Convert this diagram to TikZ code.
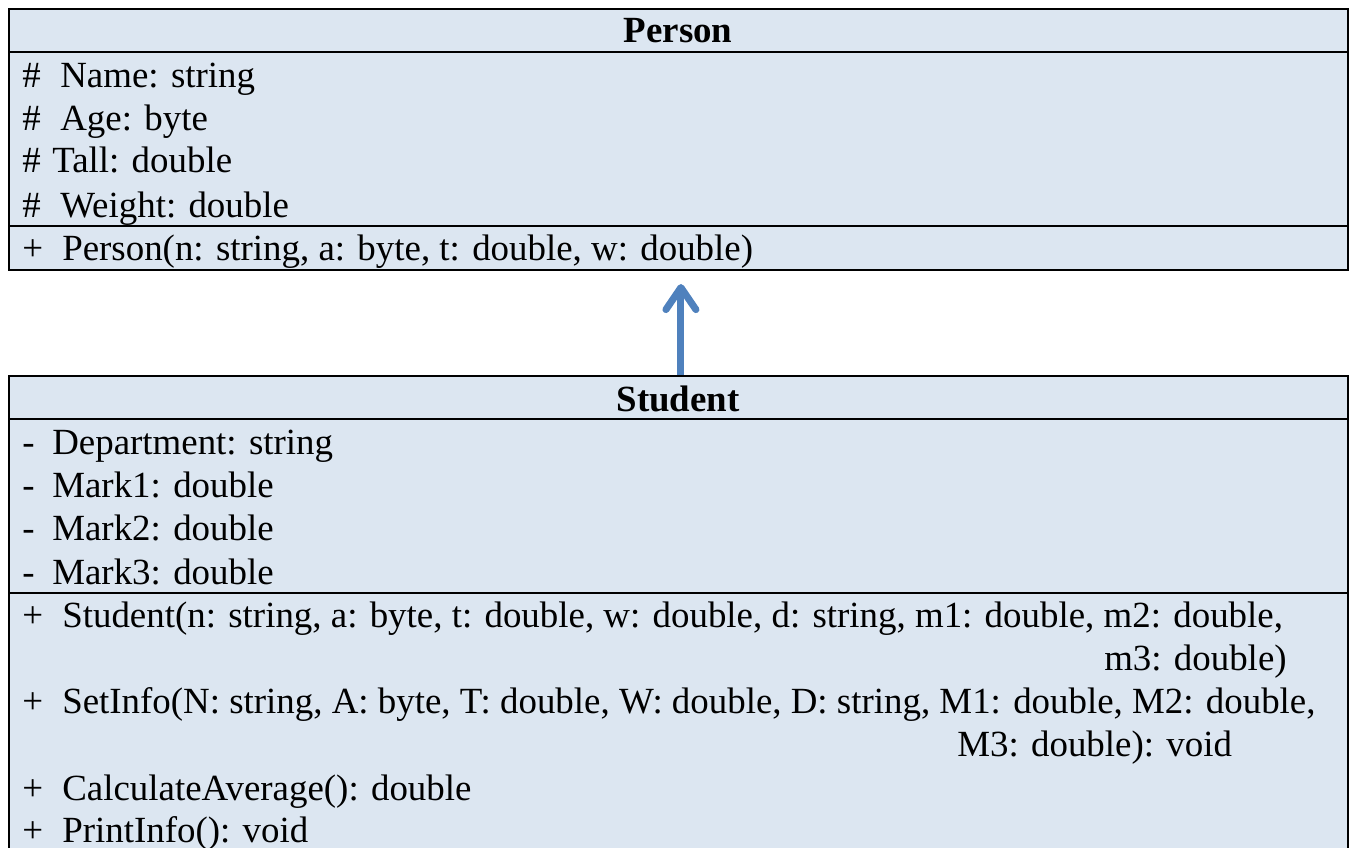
\documentclass[tikz,border=0pt]{standalone}
\usepackage{fontspec}
\setmainfont{Liberation Serif}
\usepackage{tikz}
\usetikzlibrary{arrows.meta, positioning}
\definecolor{classfill}{HTML}{DCE6F1}
\definecolor{arrowblue}{HTML}{4F81BD}
\newcommand{\umlsym}[2]{\makebox[#1][l]{#2}}

\begin{document}
\begin{tikzpicture}[
    x=0.02cm, y=-0.02cm,
    frame/.style={draw, line width=1.2pt, fill=classfill, anchor=north west,
                  inner sep=0pt, minimum width=26.78cm},
    divider/.style={line width=1.2pt},
    member/.style={anchor=base west, inner sep=0pt,
                   font=\fontsize{21}{25}\selectfont},
    title/.style={anchor=base, inner sep=0pt,
                  font=\fontsize{21}{25}\selectfont\bfseries},
    inherit/.style={-{Straight Barb[length=0.44cm, width=0.6cm, round]},
                    line width=4pt, color=arrowblue},
  ]
    \useasboundingbox (0,0) rectangle (1352,848);

    % class boxes
    \node[frame, minimum height=5.22cm] (person) at (8,8) {};
    \node[frame, minimum height=9.8cm] (student) at (8,375) {};

    \draw[divider] (8,52) -- (1347,52);
    \draw[divider] (8,226) -- (1347,226);
    \draw[divider] (8,419) -- (1347,419);
    \draw[divider] (8,593) -- (1347,593);

    % Person
    \node[title] (p-title) at (678,43) {Person};
    \node[member] (p-name) at (22,88) {\umlsym{0.76cm}{\#}Name: string};
    \node[member] (p-age) at (22,131) {\umlsym{0.76cm}{\#}Age: byte};
    \node[member] (p-tall) at (22,173) {\umlsym{0.6cm}{\#}Tall: double};
    \node[member] (p-weight) at (22,217) {\umlsym{0.76cm}{\#}Weight: double};
    \node[member] (p-ctor) at (22,260)
      {\umlsym{0.8cm}{+}Person(n: string, a: byte, t: double, w: double)};

    % Student
    \node[title] (s-title) at (678,411) {Student};
    \node[member] (s-dept) at (22,454) {\umlsym{0.6cm}{-}Department: string};
    \node[member] (s-mark1) at (22,497) {\umlsym{0.6cm}{-}Mark1: double};
    \node[member] (s-mark2) at (22,540) {\umlsym{0.6cm}{-}Mark2: double};
    \node[member] (s-mark3) at (22,584) {\umlsym{0.6cm}{-}Mark3: double};
    \node[member] (s-ctor) at (22,627)
      {\umlsym{0.8cm}{+}Student(n: string, a: byte, t: double, w: double, d: string, m1: double, m2: double,};
    \node[member, anchor=base east] (s-ctor2) at (1287,670) {m3: double)};
    \node[member] (s-set) at (22,713)
      {\umlsym{0.8cm}{+}SetInfo(N: string, A: byte, T: double, W: double, D: string, M1: double, M2: double,};
    \node[member] (s-set2) at (957,756) {M3: double): void};
    \node[member] (s-avg) at (22,800) {\umlsym{0.8cm}{+}CalculateAverage(): double};
    \node[member] (s-print) at (22,842) {\umlsym{0.8cm}{+}PrintInfo(): void};

    % inheritance
    \draw[inherit] ([xshift=0.05cm]student.north) -- ([xshift=0.05cm, yshift=-0.26cm]person.south);
  \end{tikzpicture}
\end{document}
